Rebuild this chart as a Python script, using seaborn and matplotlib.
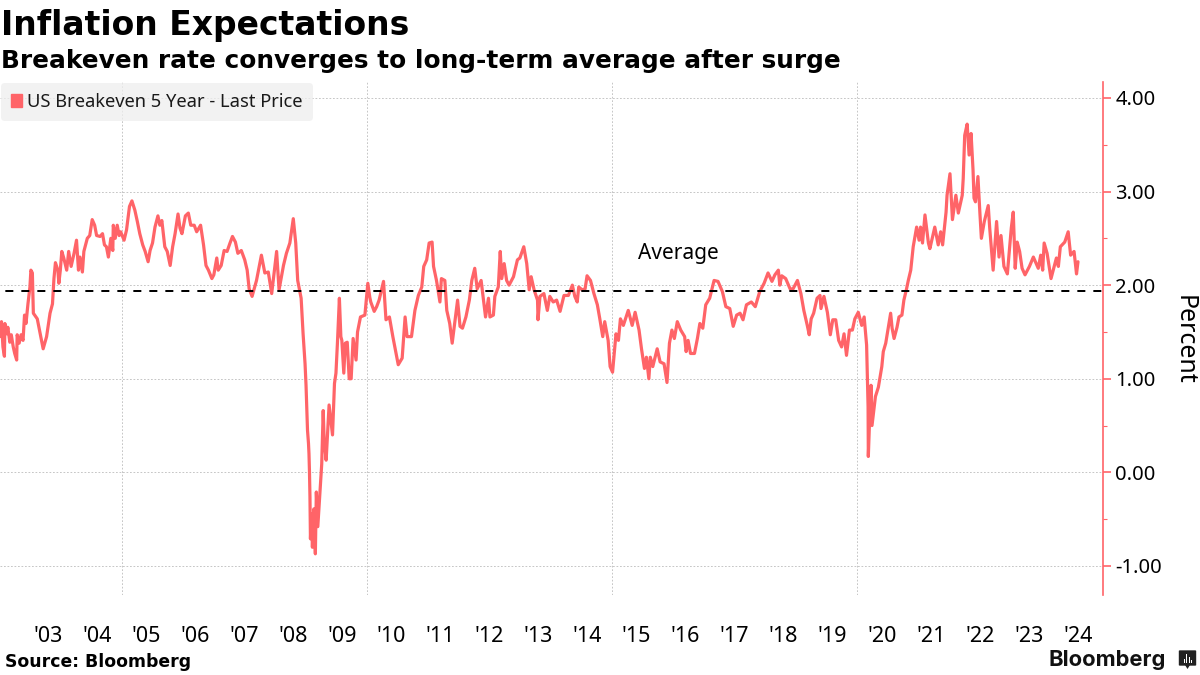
# Inflation expectations chart, US 5 year breakeven
import numpy as np
import pandas as pd
import matplotlib
matplotlib.use('Agg')
import matplotlib.pyplot as plt
from matplotlib.patches import Patch, FancyBboxPatch, Rectangle, Polygon
import seaborn as sns

# %%
# Values (decimal year, percent)
t_2002_2007 = [2002.52, 2002.54, 2002.55, 2002.58, 2002.61, 2002.62, 2002.66, 2002.68, 2002.72, 2002.75,
               2002.79, 2002.82, 2002.86, 2002.87, 2002.91, 2002.95, 2002.99, 2003.02, 2003.05, 2003.09,
               2003.13, 2003.15, 2003.18, 2003.20, 2003.28, 2003.34, 2003.40, 2003.47, 2003.54, 2003.59,
               2003.62, 2003.65, 2003.70, 2003.72, 2003.75, 2003.78, 2003.82, 2003.88, 2003.92, 2003.97,
               2004.03, 2004.08, 2004.12, 2004.15, 2004.20, 2004.23, 2004.30, 2004.35, 2004.40, 2004.45,
               2004.49, 2004.56, 2004.61, 2004.65, 2004.69, 2004.73, 2004.78, 2004.82, 2004.83, 2004.87,
               2004.91, 2004.95, 2004.98, 2005.05, 2005.10, 2005.16, 2005.21, 2005.27, 2005.32, 2005.37,
               2005.43, 2005.48, 2005.54, 2005.58, 2005.63, 2005.68, 2005.74, 2005.78, 2005.82, 2005.88,
               2005.93, 2005.99, 2006.04, 2006.09, 2006.15, 2006.19, 2006.23, 2006.30, 2006.36, 2006.41,
               2006.48, 2006.53, 2006.61, 2006.67, 2006.72, 2006.77, 2006.84, 2006.88, 2006.94, 2006.97,
               2007.03, 2007.09, 2007.15, 2007.21, 2007.26, 2007.32, 2007.37, 2007.44, 2007.51, 2007.56,
               2007.60]
v_2002_2007 = [1.59, 1.45, 1.61, 1.34, 1.24, 1.59, 1.48, 1.55, 1.39, 1.47,
               1.34, 1.27, 1.20, 1.47, 1.38, 1.47, 1.41, 1.68, 1.59, 1.80,
               1.98, 2.16, 2.13, 1.70, 1.64, 1.48, 1.32, 1.45, 1.70, 1.80,
               2.07, 2.24, 2.16, 2.02, 2.16, 2.36, 2.29, 2.16, 2.36, 2.20,
               2.34, 2.48, 2.16, 2.30, 2.14, 2.36, 2.50, 2.53, 2.70, 2.64,
               2.53, 2.52, 2.55, 2.43, 2.41, 2.30, 2.50, 2.37, 2.64, 2.50,
               2.64, 2.53, 2.57, 2.48, 2.59, 2.84, 2.90, 2.80, 2.68, 2.55,
               2.43, 2.36, 2.25, 2.37, 2.45, 2.62, 2.74, 2.64, 2.69, 2.41,
               2.36, 2.21, 2.41, 2.55, 2.76, 2.61, 2.55, 2.74, 2.77, 2.64,
               2.64, 2.57, 2.64, 2.43, 2.21, 2.16, 2.07, 2.11, 2.29, 2.16,
               2.21, 2.37, 2.36, 2.45, 2.52, 2.46, 2.34, 2.37, 2.27, 2.16,
               1.96]

t_2007_2010 = [2007.66, 2007.75, 2007.85, 2007.92, 2007.99, 2008.06, 2008.16, 2008.21, 2008.30, 2008.36,
               2008.43, 2008.50, 2008.55, 2008.59, 2008.66, 2008.70, 2008.74, 2008.76, 2008.79, 2008.81,
               2008.82, 2008.83, 2008.84, 2008.85, 2008.87, 2008.89, 2008.92, 2008.95, 2008.97, 2009.00,
               2009.03, 2009.08, 2009.11, 2009.13, 2009.17, 2009.23, 2009.30, 2009.34, 2009.37, 2009.40,
               2009.44, 2009.47, 2009.49, 2009.53, 2009.56, 2009.60, 2009.64, 2009.68, 2009.72, 2009.78,
               2009.81, 2009.87, 2009.96, 2010.02, 2010.06]
v_2007_2010 = [1.88, 2.05, 2.32, 2.13, 2.14, 1.91, 2.36, 1.95, 2.21, 2.34,
               2.45, 2.71, 2.45, 2.05, 1.86, 1.48, 1.16, 0.93, 0.45, 0.31,
               0.20, 0.01, -0.26, -0.71, -0.44, -0.80, -0.39, -0.87, -0.21, -0.58,
               -0.33, 0.09, 0.66, 0.34, 0.13, 0.72, 0.40, 0.95, 1.06, 1.38,
               1.86, 1.45, 1.41, 1.06, 1.38, 1.39, 1.00, 1.00, 1.43, 1.20,
               1.50, 1.66, 1.68, 2.02, 1.87]

t_2010_2014 = [2010.08, 2010.15, 2010.20, 2010.25, 2010.34, 2010.39, 2010.46, 2010.53, 2010.57, 2010.64,
               2010.72, 2010.78, 2010.82, 2010.91, 2010.98, 2011.05, 2011.12, 2011.16, 2011.22, 2011.27,
               2011.33, 2011.36, 2011.42, 2011.49, 2011.52, 2011.59, 2011.63, 2011.69, 2011.74, 2011.80,
               2011.85, 2011.90, 2011.95, 2012.02, 2012.09, 2012.14, 2012.20, 2012.25, 2012.33, 2012.37,
               2012.42, 2012.48, 2012.51, 2012.58, 2012.61, 2012.68, 2012.72, 2012.75, 2012.80, 2012.85,
               2012.90, 2012.99, 2013.07, 2013.12, 2013.20, 2013.26, 2013.31, 2013.35, 2013.41, 2013.48,
               2013.49, 2013.53, 2013.61, 2013.68, 2013.73, 2013.80, 2013.87, 2013.94, 2014.02, 2014.11,
               2014.19, 2014.24, 2014.29, 2014.32, 2014.39, 2014.45, 2014.49, 2014.56, 2014.63, 2014.70,
               2014.75, 2014.81, 2014.85, 2014.92, 2014.96]
v_2010_2014 = [1.82, 1.72, 1.77, 1.84, 2.04, 1.63, 1.66, 1.45, 1.34, 1.15,
               1.22, 1.66, 1.45, 1.45, 1.73, 1.89, 1.98, 2.20, 2.27, 2.45,
               2.46, 2.20, 2.05, 1.82, 2.07, 2.05, 1.73, 1.59, 1.38, 1.63,
               1.84, 1.56, 1.54, 1.66, 1.84, 2.05, 2.18, 1.96, 2.05, 1.88,
               1.66, 1.86, 1.66, 1.68, 1.88, 1.98, 2.36, 2.07, 2.23, 2.05,
               2.00, 2.09, 2.27, 2.29, 2.41, 2.23, 1.95, 2.09, 1.95, 1.84,
               1.63, 1.88, 1.91, 1.73, 1.88, 1.82, 1.84, 1.72, 1.89, 1.89,
               2.00, 1.88, 1.82, 1.98, 1.95, 1.96, 2.10, 2.05, 1.91, 1.79,
               1.64, 1.45, 1.61, 1.41, 1.13]

t_2015_2020 = [2015.01, 2015.08, 2015.13, 2015.17, 2015.23, 2015.33, 2015.41, 2015.47, 2015.55, 2015.60,
               2015.66, 2015.70, 2015.75, 2015.78, 2015.83, 2015.92, 2015.98, 2016.06, 2016.12, 2016.17,
               2016.22, 2016.27, 2016.33, 2016.40, 2016.48, 2016.51, 2016.55, 2016.60, 2016.68, 2016.74,
               2016.79, 2016.85, 2016.91, 2016.99, 2017.08, 2017.16, 2017.25, 2017.32, 2017.40, 2017.47,
               2017.54, 2017.61, 2017.67, 2017.74, 2017.84, 2017.92, 2018.01, 2018.10, 2018.18, 2018.26,
               2018.32, 2018.39, 2018.42, 2018.46, 2018.54, 2018.63, 2018.69, 2018.78, 2018.85, 2018.91,
               2018.98, 2019.02, 2019.06, 2019.11, 2019.18, 2019.24, 2019.26, 2019.32, 2019.39, 2019.45,
               2019.50, 2019.56, 2019.62, 2019.68, 2019.73, 2019.78, 2019.84, 2019.90, 2019.95, 2020.02,
               2020.09, 2020.14, 2020.19, 2020.21, 2020.22]
v_2015_2020 = [1.07, 1.48, 1.41, 1.64, 1.57, 1.73, 1.57, 1.71, 1.52, 1.32,
               1.11, 1.23, 1.00, 1.23, 1.13, 1.32, 1.18, 1.16, 0.96, 1.38,
               1.52, 1.43, 1.61, 1.52, 1.45, 1.29, 1.41, 1.27, 1.27, 1.43,
               1.59, 1.54, 1.79, 1.86, 2.05, 2.04, 1.93, 1.77, 1.75, 1.56,
               1.68, 1.70, 1.63, 1.79, 1.82, 1.77, 1.93, 2.02, 2.13, 2.04,
               2.11, 2.16, 2.00, 2.10, 2.07, 1.96, 1.96, 2.05, 1.91, 1.73,
               1.57, 1.47, 1.64, 1.70, 1.86, 1.89, 1.75, 1.88, 1.71, 1.47,
               1.63, 1.63, 1.41, 1.34, 1.48, 1.25, 1.52, 1.52, 1.64, 1.71,
               1.57, 1.66, 1.36, 0.95, 0.70]

t_2020_2024 = [2020.225, 2020.26, 2020.28, 2020.30, 2020.37, 2020.43, 2020.50, 2020.53, 2020.58, 2020.63,
               2020.68, 2020.71, 2020.75, 2020.81, 2020.85, 2020.91, 2020.95, 2021.00, 2021.04, 2021.09,
               2021.14, 2021.21, 2021.26, 2021.29, 2021.33, 2021.38, 2021.45, 2021.48, 2021.58, 2021.65,
               2021.70, 2021.74, 2021.81, 2021.83, 2021.89, 2021.94, 2022.01, 2022.06, 2022.14, 2022.16,
               2022.19, 2022.24, 2022.28, 2022.32, 2022.36, 2022.38, 2022.41, 2022.46, 2022.50, 2022.53,
               2022.59, 2022.67, 2022.70, 2022.77, 2022.84, 2022.89, 2022.93, 2022.99, 2023.06, 2023.10,
               2023.14, 2023.18, 2023.22, 2023.26, 2023.31, 2023.36, 2023.42, 2023.51, 2023.59, 2023.69,
               2023.74, 2023.78, 2023.81, 2023.87, 2023.95, 2024.06, 2024.10, 2024.14, 2024.23, 2024.30,
               2024.35, 2024.42, 2024.47, 2024.50]
v_2020_2024 = [0.17, 0.70, 0.93, 0.50, 0.81, 0.91, 1.13, 1.29, 1.38, 1.54,
               1.70, 1.54, 1.43, 1.55, 1.66, 1.68, 1.84, 1.95, 2.05, 2.16,
               2.41, 2.62, 2.48, 2.62, 2.45, 2.75, 2.45, 2.39, 2.62, 2.43,
               2.57, 2.43, 2.78, 2.96, 3.19, 2.70, 2.96, 2.77, 2.96, 3.14,
               3.60, 3.72, 3.39, 3.62, 3.23, 2.93, 2.89, 3.16, 2.77, 2.50,
               2.68, 2.85, 2.61, 2.16, 2.68, 2.30, 2.53, 2.20, 2.12, 2.36,
               2.61, 2.78, 2.18, 2.46, 2.36, 2.18, 2.11, 2.20, 2.30, 2.18,
               2.32, 2.16, 2.45, 2.34, 2.07, 2.29, 2.20, 2.41, 2.46, 2.57,
               2.32, 2.36, 2.12, 2.25]

average = 1.94
year_ticks = [2005, 2010, 2015, 2020]
year_labels = ["'03", "'04", "'05", "'06", "'07", "'08", "'09", "'10", "'11", "'12", "'13",
               "'14", "'15", "'16", "'17", "'18", "'19", "'20", "'21", "'22", "'23", "'24"]
y_ticks = [-1, 0, 1, 2, 3, 4]
y_labels = ['-1.00', '0.00', '1.00', '2.00', '3.00', '4.00']

data = pd.DataFrame({
    'year': t_2002_2007 + t_2007_2010 + t_2010_2014 + t_2015_2020 + t_2020_2024,
    'rate': v_2002_2007 + v_2007_2010 + v_2010_2014 + v_2015_2020 + v_2020_2024,
})

# %%
sns.set_theme(style='white')
plt.rcParams['font.family'] = ['Noto Sans', 'DejaVu Sans']

RED = '#ff6468'
W, H = 1200, 675
fig = plt.figure(figsize=(12, 6.75), dpi=100, facecolor='white')
ax = fig.add_axes([0, 1 - 595 / H, 1103 / W, (595 - 82) / H])

sns.lineplot(data=data, x='year', y='rate', estimator=None, sort=False,
             color=RED, linewidth=2.3, ax=ax, zorder=3)
ax.axhline(average, color='black', linewidth=1.44, linestyle=(5.33, (4, 4)), zorder=4)

ax.set(xlim=[2002.52, 2025.01], ylim=[-1.31, 4.17], xlabel='', ylabel='')

# x axis: grid every 5 years, labels in the middle of each year
ax.set_xticks(year_ticks)
ax.set_xticklabels([])
ax.set_xticks([2003.5 + i for i in range(len(year_labels))], minor=True)
ax.set_xticklabels(year_labels, minor=True, fontsize=15.5, color='black')
ax.tick_params(axis='x', which='both', length=0, pad=22)

# y axis on the right in the line colour
ax.yaxis.tick_right()
ax.set_yticks(y_ticks)
ax.set_yticklabels(y_labels, fontsize=14.5, color='black')
ax.set_yticks(np.arange(-0.5, 4, 1), minor=True)
ax.tick_params(axis='y', which='major', length=6, width=1.2, color=RED, pad=3, right=True)
ax.tick_params(axis='y', which='minor', length=3, width=0.8, color=RED, right=True)

ax.grid(True, which='major', color='#c6c6c6', linewidth=0.7, linestyle=(0, (1.8, 1.8)))
ax.set_axisbelow(True)
for side in ['top', 'left', 'bottom']:
    ax.spines[side].set_visible(False)
ax.spines['right'].set_color(RED)
ax.spines['right'].set_linewidth(1.2)

# legend box
leg = ax.legend(handles=[Patch(color=RED, label='US Breakeven 5 Year - Last Price')],
                loc='upper left', bbox_to_anchor=(0.0, 1.0), frameon=True, fancybox=True,
                facecolor='#eeeeee', edgecolor='none', framealpha=0.75, fontsize=13.2,
                handlelength=0.62, handleheight=0.7, handletextpad=0.25, borderpad=0.55,
                borderaxespad=0.05)
leg.get_texts()[0].set_color('#1a1a1a')

ax.text(2016.36, 2.34, 'Average', fontsize=15, color='black', ha='center', va='center')

# titles and footer
fig.text(1 / W, 1 - 26 / H, 'Inflation Expectations', family='DejaVu Sans', weight='bold',
         fontsize=23.8, color='black', va='center')
fig.text(1 / W, 1 - 61 / H, 'Breakeven rate converges to long-term average after surge',
         family='DejaVu Sans', weight='bold', fontsize=17.85, color='black', va='center')
fig.text(5 / W, 1 - 662 / H, 'Source: Bloomberg', family='DejaVu Sans', weight='bold',
         fontsize=12.4, color='black', va='center')
fig.text(1048 / W, 1 - 660 / H, 'Bloomberg', family='Inter', weight='bold',
         fontsize=15.8, color='#111111', va='center')

fig.text(1184 / W, 1 - 340 / H, 'Percent', fontsize=18, rotation=-90,
         color='black', ha='center', va='center')

# small logo next to the wordmark
fig.add_artist(FancyBboxPatch((1180 / W, 1 - 665 / H), 15 / W, 14 / H, transform=fig.transFigure,
                              boxstyle='round,pad=0.001', facecolor='#222222', edgecolor='none'))
fig.add_artist(Polygon([(1185 / W, 1 - 665 / H), (1190 / W, 1 - 665 / H), (1187.5 / W, 1 - 669 / H)],
                       transform=fig.transFigure, facecolor='#222222', edgecolor='none'))
for bx, bh in zip([1183.5, 1186, 1188.5, 1191], [4, 9, 6, 3]):
    fig.add_artist(Rectangle((bx / W, 1 - 663 / H), 1.2 / W, bh / H, transform=fig.transFigure,
                             facecolor='white', edgecolor='none'))

fig.savefig('out.png', dpi=100)
